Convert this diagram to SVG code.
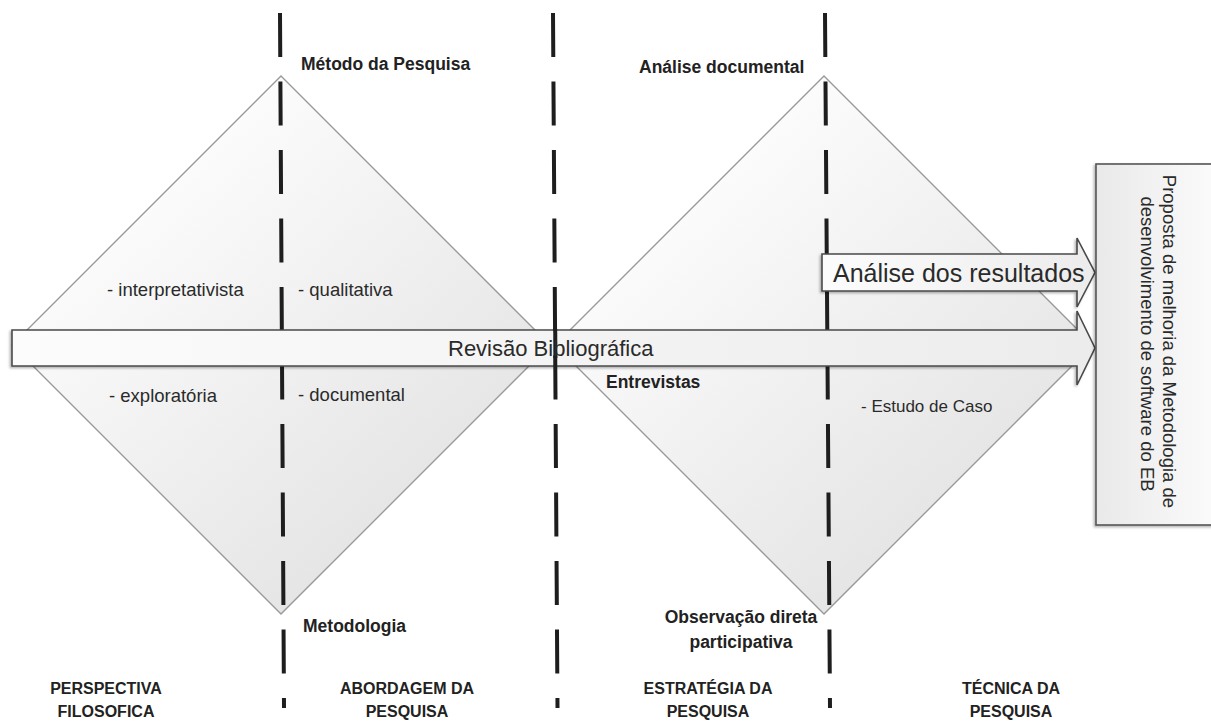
<svg xmlns="http://www.w3.org/2000/svg" width="1211" height="722" viewBox="0 0 1211 722">
<defs>
<linearGradient id="gDia" x1="0.2" y1="0.1" x2="0.9" y2="0.9">
<stop offset="0" stop-color="#ffffff"/>
<stop offset="1" stop-color="#e0e0e0"/>
</linearGradient>
<linearGradient id="gArr" x1="0" y1="0" x2="1" y2="0">
<stop offset="0" stop-color="#fcfcfc"/>
<stop offset="1" stop-color="#ececec"/>
</linearGradient>
<linearGradient id="gBox" x1="0" y1="0" x2="1" y2="0">
<stop offset="0" stop-color="#e9e9e9"/>
<stop offset="1" stop-color="#fcfcfc"/>
</linearGradient>
<filter id="sh" x="-5%" y="-20%" width="110%" height="140%">
<feDropShadow dx="-1.5" dy="1.5" stdDeviation="1" flood-color="#000" flood-opacity="0.3"/>
</filter>
</defs>
<style>
.dia{fill:url(#gDia);stroke:#999;stroke-width:1.4}
.dash{stroke:#1e1e1e;stroke-width:4;stroke-dasharray:44 24.5;fill:none}
.arr{fill:url(#gArr);stroke:#4a4a4a;stroke-width:1.6;stroke-linejoin:miter;filter:url(#sh)}
.box{fill:url(#gBox);stroke:#555;stroke-width:1.6;filter:url(#sh)}
.b{font-family:"Liberation Sans",Arial,sans-serif;font-weight:bold;font-size:17.5px;fill:#222}
.bl{font-family:"Liberation Sans",Arial,sans-serif;font-weight:bold;font-size:16px;fill:#222;text-anchor:middle}
.r{font-family:"Liberation Sans",Arial,sans-serif;font-size:18.5px;fill:#2a2a2a}
.big{font-family:"Liberation Sans",Arial,sans-serif;fill:#2a2a2a}
</style>

<g id="diamond-left">
<polygon class="dia" points="281,76 550,345 281,614 12,345"/>
</g>
<g id="diamond-right">
<polygon class="dia" points="824,76 1093,345 824,614 555,345"/>
</g>

<g id="dividers">
<line class="dash" x1="280" y1="13" x2="284" y2="708"/>
<line class="dash" x1="825" y1="13" x2="830" y2="708"/>
</g>

<g id="connectors">
<path id="arrow-revisao" class="arr" d="M12,330 H1077 V311 L1095,348 L1077,385 V366 H12 Z"/>
<path id="arrow-analise" class="arr" d="M822,254 H1077 V238 L1095,272.5 L1077,307 V291 H822 Z"/>
</g>

<g id="divider-2">
<line class="dash" x1="553" y1="13" x2="557.5" y2="708"/>
<line x1="555.2" y1="329" x2="555.4" y2="358" stroke="#1e1e1e" stroke-width="4"/>
</g>

<g id="box-proposta">
<rect class="box" x="1096" y="164" width="125" height="361"/>
<text class="big" font-size="18.5" text-anchor="middle" transform="translate(1163,344) rotate(90)">
<tspan x="0" y="0">Proposta de melhoria da Metodologia de</tspan>
<tspan x="0" y="22">desenvolvimento de software do EB</tspan>
</text>
</g>

<g id="label-arrows">
<text class="big" font-size="22" x="448" y="356">Revisão Bibliográfica</text>
<text class="big" font-size="25" x="833" y="282">Análise dos resultados</text>
</g>

<g id="labels-vertices">
<text class="b" x="301" y="70">Método da Pesquisa</text>
<text class="b" x="639" y="73">Análise documental</text>
<text class="b" x="303" y="632">Metodologia</text>
<text class="b" x="606" y="388">Entrevistas</text>
<text class="b" text-anchor="middle" x="741" y="623">Observação direta</text>
<text class="b" text-anchor="middle" x="741" y="648">participativa</text>
</g>

<g id="labels-items">
<text class="r" x="107" y="296">- interpretativista</text>
<text class="r" x="298" y="296">- qualitativa</text>
<text class="r" x="109" y="402">- exploratória</text>
<text class="r" x="298" y="401">- documental</text>
<text class="r" x="861" y="412" style="font-size:17px">- Estudo de Caso</text>
</g>

<g id="labels-columns">
<text class="bl" x="106" y="694">PERSPECTIVA</text>
<text class="bl" x="106" y="717">FILOSOFICA</text>
<text class="bl" x="407" y="694">ABORDAGEM DA</text>
<text class="bl" x="407" y="717">PESQUISA</text>
<text class="bl" x="708" y="694">ESTRATÉGIA DA</text>
<text class="bl" x="708" y="717">PESQUISA</text>
<text class="bl" x="1011" y="694">TÉCNICA DA</text>
<text class="bl" x="1011" y="717">PESQUISA</text>
</g>
</svg>
